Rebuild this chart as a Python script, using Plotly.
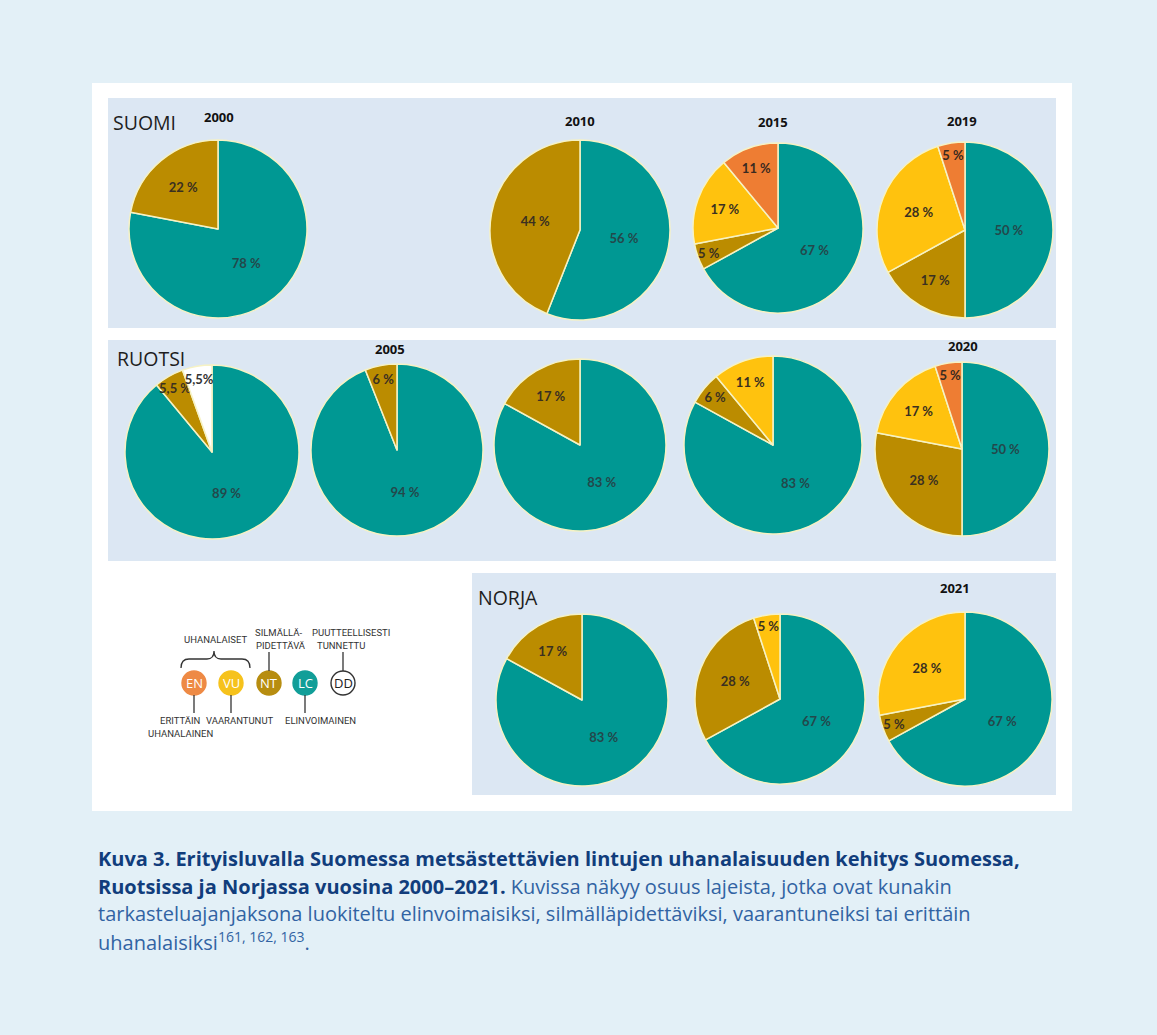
import plotly.graph_objects as go

W, H = 1157, 1035

# ---------------- data ----------------
categories = ["LC", "NT", "VU", "EN", "DD"]

suomi_years = ["2000", "2010", "2015", "2019"]
suomi_values = [
    [78, 22, 0, 0, 0],
    [56, 44, 0, 0, 0],
    [67, 5, 17, 11, 0],
    [50, 17, 28, 5, 0],
]

ruotsi_years = ["", "2005", "", "", "2020"]
ruotsi_values = [
    [89, 5.5, 0, 0, 5.5],
    [94, 6, 0, 0, 0],
    [83, 17, 0, 0, 0],
    [83, 6, 11, 0, 0],
    [50, 28, 17, 5, 0],
]

norja_years = ["", "", "2021"]
norja_values = [
    [83, 17, 0, 0, 0],
    [67, 28, 5, 0, 0],
    [67, 5, 28, 0, 0],
]

# special label texts (Swedish 2000 pie uses decimal comma)
special_labels = {("RUOTSI", 0): ["89 %", "5,5 %", "", "", "5,5%"]}

country_names = ["SUOMI", "RUOTSI", "NORJA"]

legend_codes = ["EN", "VU", "NT", "LC", "DD"]

caption_lines = [
    ("Kuva 3. Erityisluvalla Suomessa metsästettävien lintujen uhanalaisuuden kehitys Suomessa,", ""),
    ("Ruotsissa ja Norjassa vuosina 2000–2021.", " Kuvissa näkyy osuus lajeista, jotka ovat kunakin"),
    ("", "tarkasteluajanjaksona luokiteltu elinvoimaisiksi, silmälläpidettäviksi, vaarantuneiksi tai erittäin"),
    ("", "uhanalaisiksi<sup>161, 162, 163</sup>."),
]

# ---------------- styling / layout ----------------
colors = {"LC": "#009893", "NT": "#bb8c00", "VU": "#ffc20e", "EN": "#ee7d33", "DD": "#ffffff"}
text_colors = {"LC": "#23484b", "NT": "#3a3020", "VU": "#3a3020", "EN": "#3a2a20", "DD": "#333333"}

PAGE_BG = "#e3f0f7"
PANEL_BG = "#dce7f3"

# pie centres & radii (pixels)
suomi_geom = [(218, 229, 89), (580, 230, 90), (778, 228, 85), (965, 230, 88)]
ruotsi_geom = [(212, 452, 87), (397, 450, 86), (580, 445, 86), (773, 445, 89), (962, 449, 87)]
norja_geom = [(582, 700, 86), (780, 699, 85), (965, 699, 87)]

suomi_title_pos = [(219, 117), (580, 121), (773, 122), (962, 121)]
ruotsi_title_pos = [None, (390, 349), None, None, (963, 346)]
norja_title_pos = [None, None, (955, 588)]

fig = go.Figure()


def add_pies(country, values_list, geom_list):
    for i, (vals, (cx, cy, r)) in enumerate(zip(values_list, geom_list)):
        labs = [c for c, v in zip(categories, vals) if v > 0]
        vs = [v for v in vals if v > 0]
        if (country, i) in special_labels:
            full = special_labels[(country, i)]
            txt = [t for t, v in zip(full, vals) if v > 0]
        else:
            txt = [f"{v:g} %" for v in vs]
        txt = [f"<b>{t}</b>" for t in txt]
        fig.add_trace(go.Pie(
            labels=labs,
            values=vs,
            text=txt,
            textinfo="text",
            textposition="inside",
            insidetextorientation="horizontal",
            sort=False,
            direction="clockwise",
            rotation=0,
            marker=dict(colors=[colors[c] for c in labs],
                        line=dict(color="#f6f2c4", width=1.5)),
            textfont=dict(family="Lato", size=13, color=[text_colors[c] for c in labs]),
            domain=dict(x=[(cx - r) / W, (cx + r) / W], y=[1 - (cy + r) / H, 1 - (cy - r) / H]),
            showlegend=False,
            hoverinfo="label+percent",
        ))


add_pies("SUOMI", suomi_values, suomi_geom)
add_pies("RUOTSI", ruotsi_values, ruotsi_geom)
add_pies("NORJA", norja_values, norja_geom)

shapes = []
# white card
shapes.append(dict(type="rect", xref="x", yref="y", x0=92, x1=1072, y0=83, y1=811,
                   fillcolor="#ffffff", line=dict(width=0), layer="below"))
# panels
for (x0, y0, x1, y1) in [(108, 98, 1056, 328), (108, 340, 1056, 561), (472, 573, 1056, 795)]:
    shapes.append(dict(type="rect", xref="x", yref="y", x0=x0, x1=x1, y0=y0, y1=y1,
                       fillcolor=PANEL_BG, line=dict(width=0), layer="below"))

annotations = []
# country labels
for name, (x, y) in zip(country_names, [(111, 122), (115, 358), (476, 597)]):
    annotations.append(dict(x=x, y=y, xref="x", yref="y", text=name, showarrow=False,
                            xanchor="left", yanchor="middle",
                            font=dict(family="Open Sans", size=19.5, color="#1e1e1e")))
# year labels
for years, poss in [(suomi_years, suomi_title_pos), (ruotsi_years, ruotsi_title_pos),
                    (norja_years, norja_title_pos)]:
    poss = [p for p in poss if p is not None]
    yrs = [y for y in years if y]
    for yr, (x, y) in zip(yrs, poss):
        annotations.append(dict(x=x, y=y, xref="x", yref="y", text=f"<b>{yr}</b>", showarrow=False,
                                xanchor="center", yanchor="middle",
                                font=dict(family="Open Sans", size=13, color="#111111")))

# ---------------- legend graphic ----------------
leg_y = 683
leg_r = 12
leg_x = {"EN": 194, "VU": 231, "NT": 269, "LC": 305, "DD": 343}
leg_fill = {"EN": "#ee8a45", "VU": "#f6c21c", "NT": "#b78d10", "LC": "#119e98", "DD": "#ffffff"}
for code in legend_codes:
    cx = leg_x[code]
    shapes.append(dict(type="circle", xref="x", yref="y", x0=cx - leg_r, x1=cx + leg_r,
                       y0=leg_y - leg_r, y1=leg_y + leg_r, fillcolor=leg_fill[code],
                       line=dict(color="#333333" if code == "DD" else leg_fill[code], width=1.4)))
    annotations.append(dict(x=cx, y=leg_y, xref="x", yref="y", text=code, showarrow=False,
                            font=dict(family="Open Sans", size=13,
                                      color="#222222" if code == "DD" else "#ffffff")))
line_style = dict(color="#333333", width=1.3)
# down-lines
for code in ["EN", "VU", "LC"]:
    cx = leg_x[code]
    shapes.append(dict(type="line", xref="x", yref="y", x0=cx, x1=cx, y0=leg_y + leg_r, y1=713,
                       line=line_style))
# up-lines
for code in ["NT", "DD"]:
    cx = leg_x[code]
    shapes.append(dict(type="line", xref="x", yref="y", x0=cx, x1=cx, y0=leg_y - leg_r, y1=652,
                       line=line_style))
# bracket
shapes.append(dict(type="path", xref="x", yref="y",
                   path="M 181,668 Q 181,659 189,659 L 207,659 Q 214,659 214,651 "
                        "Q 214,659 221,659 L 242,659 Q 250,659 250,668",
                   line=line_style))
leg_font = dict(family="Liberation Sans Narrow, Roboto, sans-serif", size=9.5, color="#333333")
for txt, x, y in [("UHANALAISET", 215, 639), ("SILMÄLLÄ-", 278, 632), ("PIDETTÄVÄ", 281, 645),
                  ("PUUTTEELLISESTI", 351, 632), ("TUNNETTU", 341, 645),
                  ("ERITTÄIN", 180, 720), ("UHANALAINEN", 180, 733),
                  ("VAARANTUNUT", 240, 720), ("ELINVOIMAINEN", 320, 720)]:
    annotations.append(dict(x=x, y=y, xref="x", yref="y", text=txt, showarrow=False,
                            xanchor="center", yanchor="middle", font=leg_font))

# ---------------- caption ----------------
BOLD_C = "#113d7c"
REG_C = "#3163a3"
cap_y = [858, 886, 913, 941]
for (bold, reg), y in zip(caption_lines, cap_y):
    t = ""
    if bold:
        t += f"<b><span style='color:{BOLD_C}'>{bold}</span></b>"
    if reg:
        t += f"<span style='color:{REG_C}'>{reg}</span>"
    annotations.append(dict(x=96, y=y, xref="x", yref="y", text=t, showarrow=False,
                            xanchor="left", yanchor="middle", align="left",
                            font=dict(family="Open Sans", size=20, color=REG_C)))

fig.update_layout(
    width=W, height=H,
    margin=dict(l=0, r=0, t=0, b=0),
    paper_bgcolor=PAGE_BG,
    plot_bgcolor="rgba(0,0,0,0)",
    xaxis=dict(range=[0, W], visible=False, fixedrange=True, domain=[0, 1]),
    yaxis=dict(range=[H, 0], visible=False, fixedrange=True, domain=[0, 1]),
    shapes=shapes,
    annotations=annotations,
    uniformtext=dict(minsize=12, mode="show"),
)

fig.write_html("out.html", config={"displayModeBar": False})
